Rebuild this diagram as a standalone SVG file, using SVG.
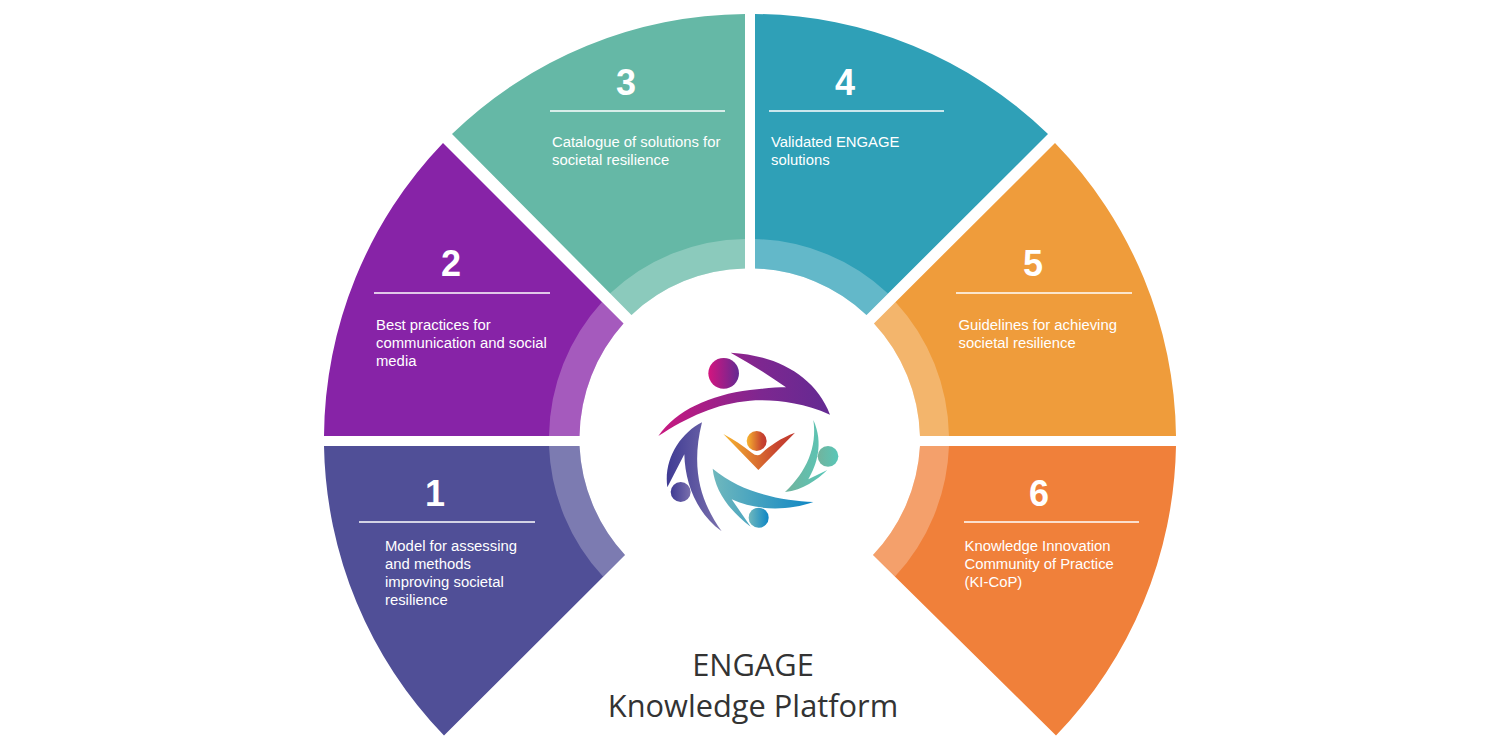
<svg xmlns="http://www.w3.org/2000/svg" width="1500" height="750" viewBox="0 0 1500 750">
<style>
.num{font:bold 36px "Liberation Sans",Arial,sans-serif;fill:#fff;text-anchor:middle}
.lbl{font:14.85px "Liberation Sans",Arial,sans-serif;fill:#fff}
.rule{stroke:#fff;stroke-width:1.5;fill:none}
.band{fill:#fff;fill-opacity:.25}
.title{font:30.8px "Open Sans",sans-serif;fill:#333;text-anchor:middle}
</style>
<defs>
<linearGradient id="gP" x1="0" x2="1" y1="0" y2="0"><stop offset="0" stop-color="#c9187f"/><stop offset=".6" stop-color="#7d2790"/><stop offset="1" stop-color="#632a92"/></linearGradient>
<linearGradient id="gC" x1="0" x2="1" y1="0" y2="0"><stop offset="0" stop-color="#d4157f"/><stop offset="1" stop-color="#632a92"/></linearGradient>
<linearGradient id="gO" x1="0" x2="1" y1="0" y2="0"><stop offset="0" stop-color="#f8b62f"/><stop offset=".75" stop-color="#c8452f"/><stop offset="1" stop-color="#c1392f"/></linearGradient>
<linearGradient id="gT" x1="0" x2="1" y1="0" y2="0"><stop offset="0" stop-color="#72b39d"/><stop offset="1" stop-color="#58c7b8"/></linearGradient>
<linearGradient id="gB" x1="0" x2="1" y1="0" y2="0"><stop offset="0" stop-color="#70b8bd"/><stop offset="1" stop-color="#0e86c4"/></linearGradient>
<linearGradient id="gI" x1="0" x2="1" y1="0" y2="0"><stop offset="0" stop-color="#3f3b94"/><stop offset="1" stop-color="#7a70ad"/></linearGradient>
</defs>
<g id="node-1">
<path fill="#504f97" d="M324 446 H579.5 A170.5 172 0 0 0 625 555 L444 735.5 A426 427 0 0 1 324 446Z"/>
<path class="band" d="M549 446 H579.5 A170.5 172 0 0 0 625 555 L603 576.5 A201 202 0 0 1 549 446Z"/>
<text class="num" x="435" y="505.500">1</text><path class="rule" d="M359 522H535"/>
<text class="lbl" x="385" y="550.500">Model for assessing</text><text class="lbl" x="385" y="568.500">and methods</text><text class="lbl" x="385" y="586.500">improving societal</text><text class="lbl" x="385" y="604.500">resilience</text>
</g>
<g id="node-2">
<path fill="#8723a7" d="M324 436 H579.5 A170.5 172 0 0 1 623.5 323.5 L443 143 A426 427 0 0 0 324 436Z"/>
<path class="band" d="M549 436 H579.5 A170.5 172 0 0 1 623.5 323.5 L602 302 A201 202 0 0 0 549 436Z"/>
<text class="num" x="451" y="276">2</text><path class="rule" d="M374 293H550"/>
<text class="lbl" x="376" y="330">Best practices for</text><text class="lbl" x="376" y="348">communication and social</text><text class="lbl" x="376" y="366">media</text>
</g>
<g id="node-3">
<path fill="#65b8a6" d="M745 14 V268.500 A170.500 172 0 0 0 631.500 315 L452 134 A426 427 0 0 1 745 14Z"/>
<path class="band" d="M745 239 V268.500 A170.500 172 0 0 0 631.500 315 L610 293.500 A201 202 0 0 1 745 239Z"/>
<text class="num" x="626" y="94.500">3</text><path class="rule" d="M550 111H725"/>
<text class="lbl" x="552" y="147">Catalogue of solutions for</text><text class="lbl" x="552" y="165">societal resilience</text>
</g>
<g id="node-4">
<path fill="#2fa0b7" d="M755 14 V268.500 A170.500 172 0 0 1 866.500 315 L1048 134 A426 427 0 0 0 755 14Z"/>
<path class="band" d="M755 239 V268.500 A170.500 172 0 0 1 866.500 315 L888 293.500 A201 202 0 0 0 755 239Z"/>
<text class="num" x="845" y="94.500">4</text><path class="rule" d="M769 111H944"/>
<text class="lbl" x="771" y="147">Validated ENGAGE</text><text class="lbl" x="771" y="165">solutions</text>
</g>
<g id="node-5">
<path fill="#ef9c3b" d="M1176 436 H920 A170.500 172 0 0 0 874 323.500 L1055 143 A426 427 0 0 1 1176 436Z"/>
<path class="band" d="M949 436 H920 A170.500 172 0 0 0 874 323.500 L895.500 302 A201 202 0 0 1 949 436Z"/>
<text class="num" x="1033" y="276">5</text><path class="rule" d="M956 293H1132"/>
<text class="lbl" x="958.500" y="330">Guidelines for achieving</text><text class="lbl" x="958.500" y="348">societal resilience</text>
</g>
<g id="node-6">
<path fill="#f0803a" d="M1176 446 H920 A170.500 172 0 0 1 873 555 L1056 735.500 A426 427 0 0 0 1176 446Z"/>
<path class="band" d="M949 446 H920 A170.500 172 0 0 1 873 555 L895 576.500 A201 202 0 0 0 949 446Z"/>
<text class="num" x="1039" y="505.500">6</text><path class="rule" d="M964 522H1139"/>
<text class="lbl" x="964.500" y="550.500">Knowledge Innovation</text><text class="lbl" x="964.500" y="568.500">Community of Practice</text><text class="lbl" x="964.500" y="586.500">(KI-CoP)</text>
</g>
<g id="logo" transform="translate(640 340) scale(.33333)">
<path fill="url(#gP)" d="M272 38 C405 45 525 105 570 224 C480 185 400 178 330 182 C230 190 140 232 55 288 C110 210 210 165 330 150 C370 145 410 142 438 142 C385 105 330 70 272 38Z"/>
<circle cx="251" cy="100" r="46" fill="url(#gC)"/>
<path fill="url(#gO)" d="M250 282 L355 390 L465 278 C420 295 385 320 362 343 Q350 350 335 338 C310 318 280 298 250 282Z"/>
<circle cx="350" cy="303" r="30" fill="url(#gO)"/>
<path fill="url(#gT)" d="M520 240 C532 320 500 395 435 456 C490 450 530 420 562 390 L505 418 C530 375 552 310 520 240Z"/>
<circle cx="564" cy="349" r="31" fill="url(#gT)"/>
<path fill="url(#gB)" d="M218 386 C225 450 265 510 332 560 L275 478 C340 510 440 515 520 486 C430 482 310 462 218 386Z"/>
<circle cx="356" cy="533" r="30" fill="url(#gB)"/>
<path fill="url(#gI)" d="M186 247 C120 280 70 360 82 442 L133 343 C135 430 170 520 245 574 C185 490 150 390 186 247Z"/>
<circle cx="122" cy="456" r="30" fill="url(#gI)"/>
</g>
<g id="title"><text class="title" x="753" y="676">ENGAGE</text><text class="title" x="753" y="717">Knowledge Platform</text></g>
</svg>
